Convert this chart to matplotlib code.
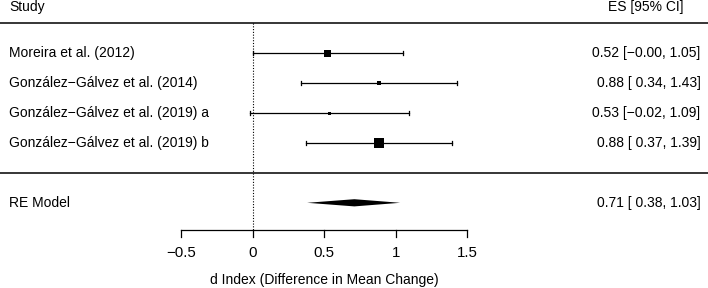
import matplotlib
matplotlib.use("Agg")
import matplotlib.pyplot as plt
from matplotlib.patches import Polygon

plt.rcParams['font.family'] = ['Liberation Sans', 'DejaVu Sans']

# study data
studies = ["Moreira et al. (2012)",
           "González\u2212Gálvez et al. (2014)",
           "González\u2212Gálvez et al. (2019) a",
           "González\u2212Gálvez et al. (2019) b"]
es = [0.52, 0.88, 0.53, 0.88]
ci_lo = [-0.00, 0.34, -0.02, 0.37]
ci_hi = [1.05, 1.43, 1.09, 1.39]

# pooled random-effects estimate
re_label = "RE Model"
re_es = 0.71
re_lo = 0.38
re_hi = 1.03

xticks = [-0.5, 0, 0.5, 1, 1.5]
xticklabels = ["\u22120.5", "0", "0.5", "1", "1.5"]
xlabel = "d Index (Difference in Mean Change)"


def fmt_ci(e, lo, hi):
    def f(v):
        s = "%.2f" % v
        if not s.startswith("-"):
            s = " " + s
        return s.replace("-", "\u2212")
    return "%.2f [%s, %.2f]" % (e, f(lo), hi)


fig = plt.figure(figsize=(7.08, 2.88), dpi=100)
ax = fig.add_axes([0, 0, 1, 1])
ax.set_xlim(-1.768, 3.183)
ax.set_ylim(-3.84, 5.76)
ax.axis("off")

fs = 10
k = len(studies)
rows = list(range(k, 0, -1))
box_px = [7, 4, 3, 10]   # box size in pixels (study weight)
x_left = -1.705
x_right = 3.13

# header + rules
ax.text(x_left, 5.52, "Study", fontsize=fs, va="center", ha="left")
ax.text(3.015, 5.52, "ES [95% CI]", fontsize=fs, va="center", ha="right")
ax.axhline(5, color="black", lw=1.1)
ax.axhline(0, color="black", lw=1.1)

# reference line at 0
ax.plot([0, 0], [5, -1.9], color="black", lw=0.8, ls=(0, (1, 1.5)))

cap = 0.07
for i, r in enumerate(rows):
    ax.plot([ci_lo[i], ci_hi[i]], [r, r], color="black", lw=0.9)
    for xe in (ci_lo[i], ci_hi[i]):
        ax.plot([xe, xe], [r - cap, r + cap], color="black", lw=0.9)
    ax.plot(es[i], r, marker="s", color="black", ms=box_px[i] * 0.72, mew=0)
    ax.text(x_left, r, studies[i], fontsize=fs, va="center", ha="left")
    ax.text(x_right, r, fmt_ci(es[i], ci_lo[i], ci_hi[i]), fontsize=fs,
            va="center", ha="right")

# summary diamond
yr = -1
h = 0.12
ax.add_patch(Polygon([[re_lo, yr], [re_es, yr + h], [re_hi, yr], [re_es, yr - h]],
                     closed=True, color="black", lw=0))
ax.text(x_left, yr, re_label, fontsize=fs, va="center", ha="left")
ax.text(x_right, yr, fmt_ci(re_es, re_lo, re_hi), fontsize=fs, va="center",
        ha="right")

# x axis
ya = -1.9
ax.plot([xticks[0], xticks[-1]], [ya, ya], color="black", lw=0.9)
for t, lab in zip(xticks, xticklabels):
    ax.plot([t, t], [ya, ya - 0.23], color="black", lw=0.9)
    ax.text(t, -2.67, lab, fontsize=fs + 0.8, va="center", ha="center")
ax.text(0.5, -3.56, xlabel, fontsize=fs, va="center", ha="center")

fig.savefig("out.png", dpi=100)
